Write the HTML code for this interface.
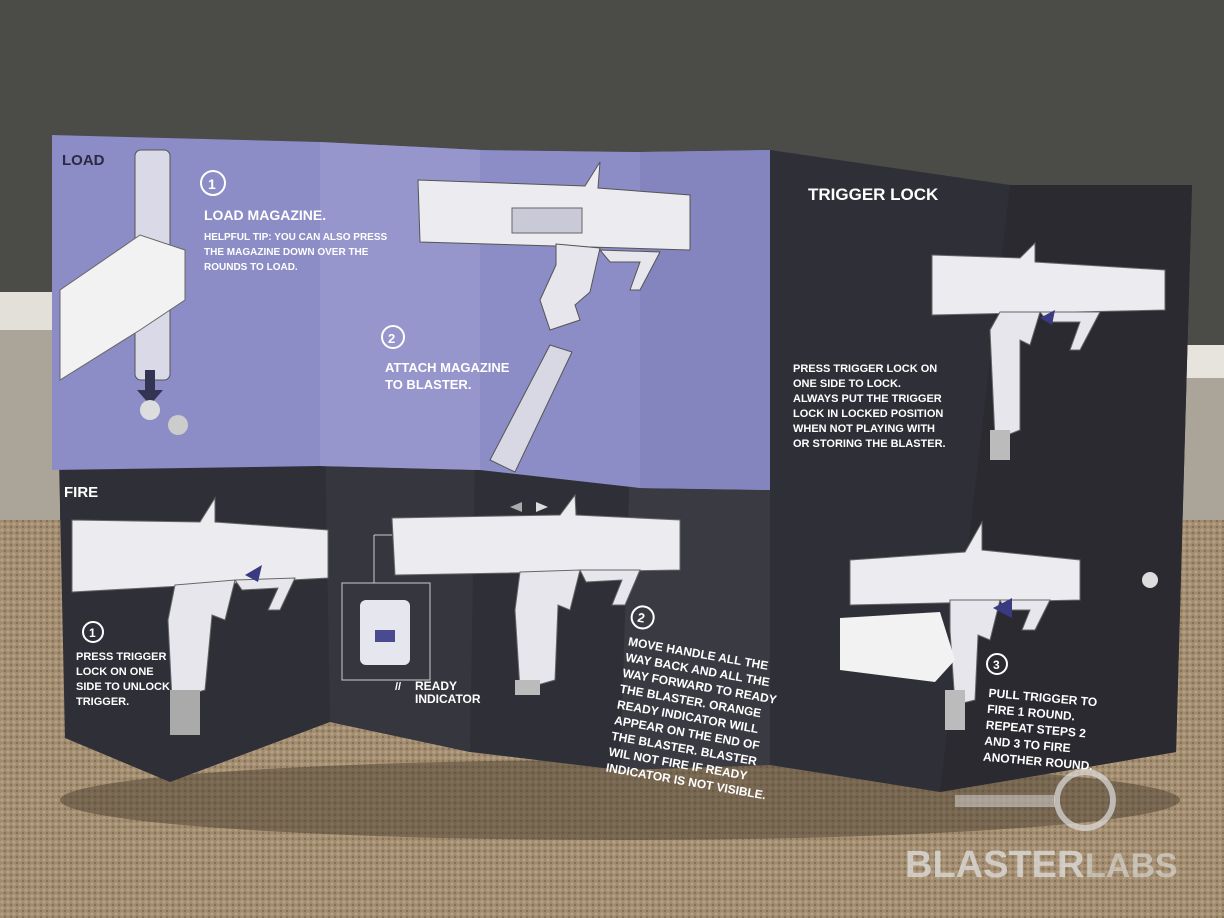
<!DOCTYPE html>
<html><head><meta charset="utf-8">
<style>
html,body{margin:0;padding:0;width:1224px;height:918px;overflow:hidden;background:#4a4a47;}
svg{display:block}
text{font-family:"Liberation Sans",sans-serif;font-weight:bold;}
</style></head>
<body>
<svg width="1224" height="918" viewBox="0 0 1224 918" xmlns="http://www.w3.org/2000/svg">
<defs>
<pattern id="carpet" width="6" height="6" patternUnits="userSpaceOnUse">
<rect width="6" height="6" fill="#a28c6f"/>
<circle cx="2" cy="2" r="1.5" fill="#b8a284"/>
<circle cx="5" cy="5" r="1.2" fill="#85715a"/>
</pattern>
</defs>
<rect x="0" y="0" width="1224" height="520" fill="#4b4b48"/>
<rect x="0" y="292" width="60" height="38" fill="#e2e0d8"/>
<rect x="0" y="330" width="60" height="190" fill="#aaa598"/>
<rect x="1170" y="345" width="54" height="33" fill="#e6e4dc"/>
<rect x="1170" y="378" width="54" height="142" fill="#aaa598"/>
<rect x="0" y="520" width="1224" height="398" fill="url(#carpet)"/>
<ellipse cx="620" cy="800" rx="560" ry="40" fill="#4a3e30" opacity="0.5"/>

<polygon points="52,135 320,142 480,150 640,152 770,150 1010,185 1192,185 1176,752 940,792 770,765 620,770 470,752 330,722 170,782 65,738" fill="#2f2f37"/>
<polygon points="320,142 480,150 470,752 330,722" fill="#36363e"/>
<polygon points="640,152 770,150 770,765 620,770" fill="#3a3a42"/>
<polygon points="1010,185 1192,185 1176,752 940,792" fill="#2a2a30"/>
<polygon points="52,135 320,142 480,150 640,152 770,150 770,490 640,488 480,470 320,466 52,470" fill="#8c8cc6"/>
<polygon points="320,142 480,150 480,470 320,466" fill="#9696cc"/>
<polygon points="640,152 770,150 770,490 640,488" fill="#8484bf"/>

<text x="62" y="165" font-size="15" fill="#2a2a40">LOAD</text>
<rect x="135" y="150" width="35" height="230" rx="6" fill="#d9d9e8" stroke="#555" stroke-width="1"/>
<polygon points="60,290 140,235 185,250 185,300 140,330 60,380" fill="#f2f2f2" stroke="#666"/>
<polygon points="145,370 155,370 155,390 163,390 150,405 137,390 145,390" fill="#333352"/>
<circle cx="150" cy="410" r="10" fill="#ddd"/><circle cx="178" cy="425" r="10" fill="#ccc"/>
<circle cx="213" cy="183" r="12" fill="none" stroke="#fff" stroke-width="2"/>
<text x="208" y="189" font-size="14" fill="#fff">1</text>
<text x="204" y="220" font-size="14" fill="#fff">LOAD MAGAZINE.</text>
<text x="204" y="240" font-size="10" fill="#fff">HELPFUL TIP: YOU CAN ALSO PRESS</text>
<text x="204" y="255" font-size="10" fill="#fff">THE MAGAZINE DOWN OVER THE</text>
<text x="204" y="270" font-size="10" fill="#fff">ROUNDS TO LOAD.</text>

<!-- top gun -->
<polygon points="418,180 585,186 600,162 598,188 690,195 690,250 420,242" fill="#ececf0" stroke="#555"/>
<rect x="512" y="208" width="70" height="25" fill="#c9c9d8" stroke="#666"/>
<polygon points="556,244 600,248 590,292 575,305 580,320 550,330 540,300 556,265" fill="#e6e6ec" stroke="#555"/>
<polygon points="600,250 660,252 640,290 630,290 640,262 610,262" fill="#e6e6ec" stroke="#555"/>
<polygon points="490,460 550,345 572,352 515,472" fill="#d8d8e4" stroke="#555"/>
<circle cx="393" cy="337" r="11" fill="none" stroke="#fff" stroke-width="2"/>
<text x="388" y="343" font-size="13" fill="#fff">2</text>
<text x="385" y="372" font-size="13" fill="#fff">ATTACH MAGAZINE</text>
<text x="385" y="389" font-size="13" fill="#fff">TO BLASTER.</text>

<text x="808" y="200" font-size="17" fill="#fff">TRIGGER LOCK</text>
<polygon points="932,255 1020,258 1035,243 1035,262 1165,270 1165,310 932,315" fill="#ececf0" stroke="#666"/>
<polygon points="1000,312 1040,312 1030,345 1020,340 1020,430 995,440 990,330" fill="#e6e6ec" stroke="#666"/>
<polygon points="1040,312 1100,312 1080,350 1070,350 1080,322 1048,322" fill="#e6e6ec" stroke="#666"/>
<polygon points="1040,318 1055,310 1052,325" fill="#3a3a80"/>
<rect x="990" y="430" width="20" height="30" fill="#bbb"/>
<text x="793" y="372" font-size="11" fill="#fff">PRESS TRIGGER LOCK ON</text>
<text x="793" y="387" font-size="11" fill="#fff">ONE SIDE TO LOCK.</text>
<text x="793" y="402" font-size="11" fill="#fff">ALWAYS PUT THE TRIGGER</text>
<text x="793" y="417" font-size="11" fill="#fff">LOCK IN LOCKED POSITION</text>
<text x="793" y="432" font-size="11" fill="#fff">WHEN NOT PLAYING WITH</text>
<text x="793" y="447" font-size="11" fill="#fff">OR STORING THE BLASTER.</text>

<text x="64" y="497" font-size="15" fill="#fff">FIRE</text>
<polygon points="72,520 200,522 215,498 215,522 328,530 328,578 72,592" fill="#ececf0" stroke="#666"/>
<polygon points="175,585 235,580 225,620 212,615 205,690 172,700 168,620" fill="#e6e6ec" stroke="#666"/>
<polygon points="235,580 295,578 280,610 268,610 278,588 242,590" fill="#e6e6ec" stroke="#666"/>
<polygon points="245,575 262,565 258,582" fill="#3a3a80"/>
<rect x="170" y="690" width="30" height="45" fill="#aaa"/>
<circle cx="93" cy="632" r="10" fill="none" stroke="#fff" stroke-width="2"/>
<text x="89" y="637" font-size="12" fill="#fff">1</text>
<text x="76" y="660" font-size="11" fill="#fff">PRESS TRIGGER</text>
<text x="76" y="675" font-size="11" fill="#fff">LOCK ON ONE</text>
<text x="76" y="690" font-size="11" fill="#fff">SIDE TO UNLOCK</text>
<text x="76" y="705" font-size="11" fill="#fff">TRIGGER.</text>

<polygon points="392,518 560,515 575,495 576,515 680,520 680,570 395,575" fill="#ececf0" stroke="#666"/>
<polygon points="520,572 580,570 570,610 558,605 555,680 520,690 515,610" fill="#e6e6ec" stroke="#666"/>
<polygon points="580,570 640,570 625,605 612,605 622,580 586,582" fill="#e6e6ec" stroke="#666"/>
<rect x="515" y="680" width="25" height="15" fill="#bbb"/>
<polygon points="510,507 522,502 522,512" fill="#aaa"/><polygon points="548,507 536,502 536,512" fill="#ddd"/>
<line x1="374" y1="535" x2="392" y2="535" stroke="#ccc"/><line x1="374" y1="535" x2="374" y2="583" stroke="#ccc"/>
<rect x="342" y="583" width="88" height="97" fill="none" stroke="#ccc"/>
<rect x="360" y="600" width="50" height="65" rx="6" fill="#e6e6ee"/>
<rect x="375" y="630" width="20" height="12" fill="#4a4a90"/>
<text x="395" y="690" font-size="11" fill="#fff">// </text>
<text x="415" y="690" font-size="12" fill="#fff">READY</text>
<text x="415" y="703" font-size="12" fill="#fff">INDICATOR</text>

<g transform="rotate(10 625 660)">
<circle cx="635" cy="615" r="11" fill="none" stroke="#fff" stroke-width="2"/>
<text x="630" y="620" font-size="13" fill="#fff">2</text>
<text x="625" y="645" font-size="12" fill="#fff">MOVE HANDLE ALL THE</text>
<text x="625" y="661" font-size="12" fill="#fff">WAY BACK AND ALL THE</text>
<text x="625" y="677" font-size="12" fill="#fff">WAY FORWARD TO READY</text>
<text x="625" y="693" font-size="12" fill="#fff">THE BLASTER. ORANGE</text>
<text x="625" y="709" font-size="12" fill="#fff">READY INDICATOR WILL</text>
<text x="625" y="725" font-size="12" fill="#fff">APPEAR ON THE END OF</text>
<text x="625" y="741" font-size="12" fill="#fff">THE BLASTER. BLASTER</text>
<text x="625" y="757" font-size="12" fill="#fff">WIL NOT FIRE IF READY</text>
<text x="625" y="773" font-size="12" fill="#fff">INDICATOR IS NOT VISIBLE.</text>
</g>

<polygon points="850,560 965,552 982,522 982,550 1080,560 1080,600 850,605" fill="#ececf0" stroke="#666"/>
<polygon points="950,600 1000,600 990,640 978,635 975,700 955,705 950,630" fill="#e6e6ec" stroke="#666"/>
<polygon points="1000,600 1050,600 1035,630 1022,630 1030,610 1005,610" fill="#e6e6ec" stroke="#666"/>
<polygon points="840,618 940,612 955,660 935,682 840,670" fill="#f2f2f2"/>
<polygon points="993,608 1012,598 1012,618" fill="#3a3a80"/>
<circle cx="1150" cy="580" r="8" fill="#ddd"/>
<rect x="945" y="690" width="20" height="40" fill="#bbb"/>
<circle cx="997" cy="664" r="10" fill="none" stroke="#fff" stroke-width="2"/>
<text x="993" y="669" font-size="12" fill="#fff">3</text>
<g transform="rotate(5 990 700)">
<text x="988" y="697" font-size="12" fill="#fff">PULL TRIGGER TO</text>
<text x="988" y="713" font-size="12" fill="#fff">FIRE 1 ROUND.</text>
<text x="988" y="729" font-size="12" fill="#fff">REPEAT STEPS 2</text>
<text x="988" y="745" font-size="12" fill="#fff">AND 3 TO FIRE</text>
<text x="988" y="761" font-size="12" fill="#fff">ANOTHER ROUND.</text>
</g>

<circle cx="1085" cy="800" r="28" fill="none" stroke="#ddd" stroke-width="6" opacity="0.7"/>
<rect x="955" y="795" width="100" height="12" fill="#ddd" opacity="0.5"/>
<text x="905" y="877" font-size="38" fill="#e0e0e0" opacity="0.75">BLASTER</text>
<text x="1085" y="877" font-size="34" fill="#e0e0e0" opacity="0.6" font-weight="normal">LABS</text>
</svg>
</body></html>
